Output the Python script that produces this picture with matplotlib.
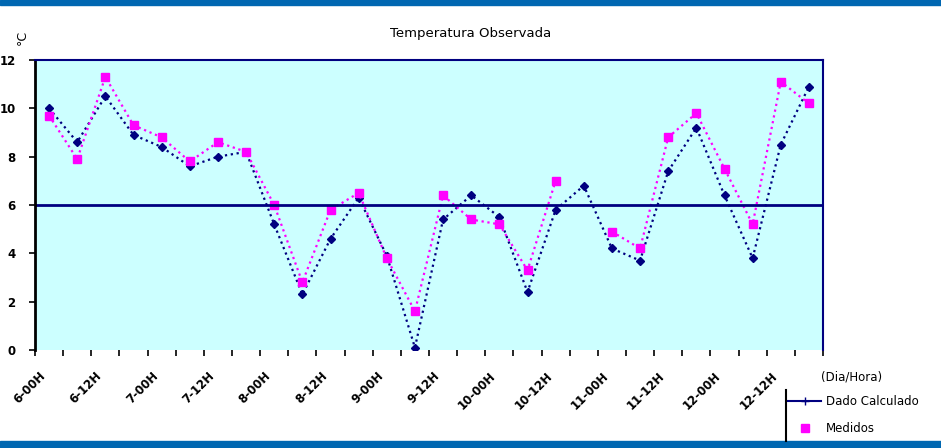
import numpy as np
import matplotlib
matplotlib.use("Agg")
import matplotlib.pyplot as plt
import matplotlib.transforms as mtransforms
from matplotlib.lines import Line2D
from matplotlib.patches import Rectangle

# 28 readings, one every 6 hours (day 6 00H ... day 12 18H)
tick_labels = ["6-00H", "6-12H", "7-00H", "7-12H", "8-00H", "8-12H", "9-00H",
               "9-12H", "10-00H", "10-12H", "11-00H", "11-12H", "12-00H", "12-12H"]
calculado = [10.0, 8.6, 10.5, 8.9, 8.4, 7.6, 8.0, 8.2, 5.2, 2.3, 4.6, 6.3, 3.9, 0.1,
             5.4, 6.4, 5.5, 2.4, 5.8, 6.8, 4.2, 3.7, 7.4, 9.2, 6.4, 3.8, 8.5, 10.9]
medidos = [9.7, 7.9, 11.3, 9.3, 8.8, 7.8, 8.6, 8.2, 6.0, 2.8, 5.8, 6.5, 3.8, 1.6,
           6.4, 5.4, 5.2, 3.3, 7.0, np.nan, 4.9, 4.2, 8.8, 9.8, 7.5, 5.2, 11.1, 10.2]

navy = "#000080"
magenta = "#FF00FF"

fig = plt.figure(figsize=(9.41, 4.48), dpi=100)
ax = fig.add_axes([35 / 941, 1 - 350 / 448, (823 - 35) / 941, (350 - 60) / 448])
ax.set_facecolor("#CCFFFF")

x = np.arange(len(calculado))
ax.plot(x, calculado, color=navy, linestyle=":", lw=1.6, marker="D", markersize=4)
ax.plot(x, medidos, color=magenta, linestyle=":", lw=1.6, marker="s", markersize=6)
ax.axhline(6, color=navy, lw=2)

ax.set_xlim(-0.5, len(calculado) - 0.5)
ax.set_ylim(0, 12)
ax.set_yticks(range(0, 13, 2))
ax.set_yticklabels([str(v) for v in range(0, 13, 2)], fontsize=8.5, fontweight="bold")
ax.tick_params(axis="y", direction="out", length=4, width=1.2, pad=10)

ax.set_xticks(np.arange(-0.5, len(calculado), 1))
ax.set_xticklabels([])
ax.tick_params(axis="x", direction="out", length=4, width=1.2)
ax.set_xticks(np.arange(0, len(calculado), 2), minor=True)
ax.set_xticklabels(tick_labels, minor=True, rotation=45, ha="right",
                   rotation_mode="anchor", fontsize=8.5, fontweight="bold")
ax.tick_params(axis="x", which="minor", length=0, pad=14)
shift = mtransforms.ScaledTranslation(-10 / 100, 0, fig.dpi_scale_trans)
for lab in ax.get_xticklabels(minor=True):
    lab.set_transform(lab.get_transform() + shift)

ax.spines["bottom"].set_visible(False)
ax.spines["left"].set_color("black")
ax.spines["left"].set_linewidth(2)
for s in ["top", "right"]:
    ax.spines[s].set_color(navy)
    ax.spines[s].set_linewidth(1.5)

fig.text(0.5, 1 - 33 / 448, "Temperatura Observada", ha="center", va="center", fontsize=9.5)
fig.text(22 / 941, 1 - 37 / 448, "°C", rotation=90, ha="center", va="center", fontsize=9)
fig.text(852 / 941, 1 - 377 / 448, "(Dia/Hora)", ha="center", va="center", fontsize=8.5)

handles = [Line2D([], [], color=navy, lw=1.5, marker="+", markersize=6),
           Line2D([], [], color=magenta, lw=0, marker="s", markersize=6)]
fig.legend(handles, ["Dado Calculado", "Medidos"], loc="upper left",
           bbox_to_anchor=(788 / 941, 1 - 395 / 448), frameon=False,
           fontsize=8.5, handlelength=2.8, handletextpad=0.4,
           borderaxespad=0, borderpad=0, labelspacing=1.2)
fig.add_artist(Line2D([786 / 941, 786 / 941], [1 - 390 / 448, 1 - 441 / 448],
                      color="black", lw=1.5))

# blue frame bands at top and bottom of the picture
fig.patches.append(Rectangle((0, 1 - 5 / 448), 1, 5 / 448, transform=fig.transFigure,
                             color="#0067B1", zorder=0))
fig.patches.append(Rectangle((0, 0), 1, 7 / 448, transform=fig.transFigure,
                             color="#0067B1", zorder=0))

fig.savefig("out.png", dpi=100)
